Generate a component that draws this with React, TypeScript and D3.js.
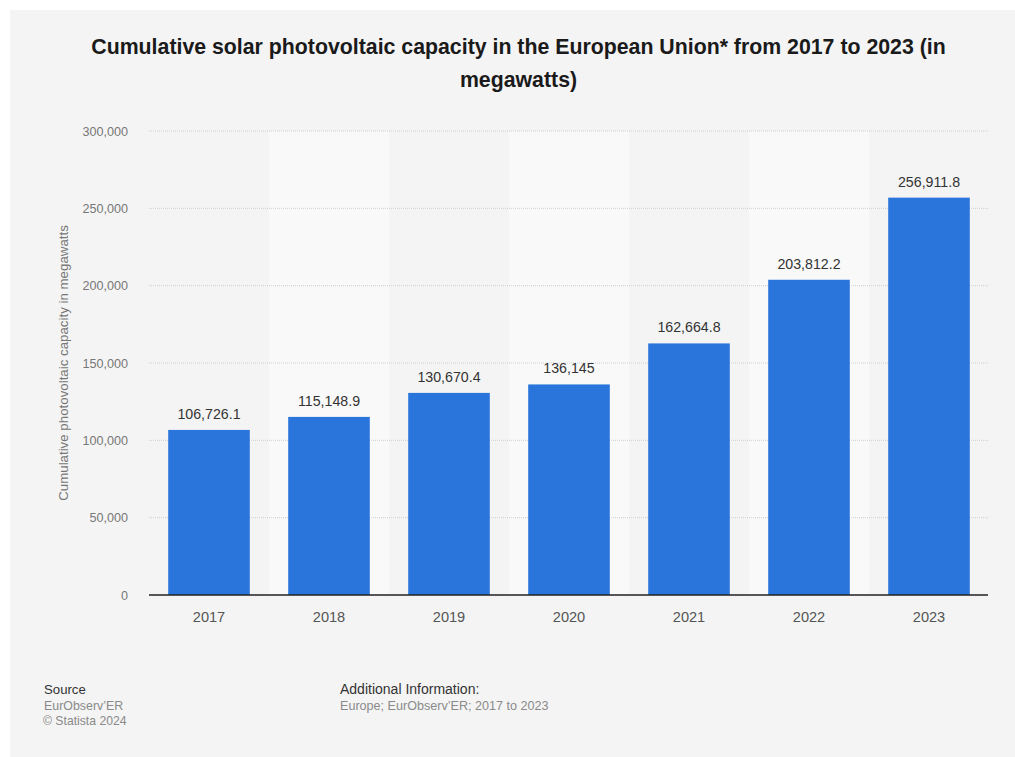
import React from "react";
import * as d3 from "d3";

const years = ["2017", "2018", "2019", "2020", "2021", "2022", "2023"];
const capacity = [106726.1, 115148.9, 130670.4, 136145, 162664.8, 203812.2, 256911.8];
const valueLabels = ["106,726.1", "115,148.9", "130,670.4", "136,145", "162,664.8", "203,812.2", "256,911.8"];
const yTicks = [0, 50000, 100000, 150000, 200000, 250000, 300000];

const W = 1015;
const H = 757;
const plot = { left: 149, right: 989, top: 131, bottom: 595 };
const FONT = "'Liberation Sans', Arial, Helvetica, sans-serif";

export default function App() {
  const x = d3.scaleBand<string>().domain(years).range([plot.left, plot.right]).paddingInner(0.32).paddingOuter(0.16);
  const xBand = d3.scaleBand<string>().domain(years).range([plot.left, plot.right]).padding(0);
  const y = d3.scaleLinear().domain([0, 300000]).range([plot.bottom, plot.top]);
  const fmt = d3.format(",");

  return (
    <svg width={W} height={H} style={{ position: "absolute", left: 0, top: 0, display: "block" }} xmlns="http://www.w3.org/2000/svg">
      <rect x={0} y={0} width={W} height={H} fill="#ffffff" />
      <rect x={10} y={10} width={W - 10} height={H - 10} fill="#f4f4f4" />
      {/* alternating bands */}
      {years.map((yr, i) =>
        i % 2 === 1 ? (
          <rect key={"band" + yr} x={xBand(yr)!} y={plot.top} width={xBand.bandwidth()} height={plot.bottom - plot.top} fill="#f9f9f9" />
        ) : null
      )}
      {/* title */}
      <text x={518.5} y={54} textAnchor="middle" fontFamily={FONT} fontWeight="bold" fontSize={21.3} fill="#1a1a1a">
        Cumulative solar photovoltaic capacity in the European Union* from 2017 to 2023 (in
      </text>
      <text x={518.5} y={87} textAnchor="middle" fontFamily={FONT} fontWeight="bold" fontSize={21.3} fill="#1a1a1a">
        megawatts)
      </text>
      {/* gridlines */}
      {yTicks.filter((t) => t > 0).map((t) => (
        <line key={"g" + t} x1={plot.left} x2={plot.right - 1} y1={y(t)} y2={y(t)} stroke="#cfcfcf" strokeWidth={1} strokeDasharray="1,1" />
      ))}
      {/* y tick labels */}
      {yTicks.map((t) => (
        <text key={"yt" + t} x={128} y={y(t) + 4.5} textAnchor="end" fontFamily={FONT} fontSize={12.6} fill="#777">
          {fmt(t)}
        </text>
      ))}
      {/* y axis title */}
      <text transform={`translate(68, ${(plot.top + plot.bottom) / 2}) rotate(-90)`} textAnchor="middle" fontFamily={FONT} fontSize={13.3} fill="#777">
        Cumulative photovoltaic capacity in megawatts
      </text>
      {/* bars */}
      {years.map((yr, i) => (
        <rect key={"b" + yr} x={x(yr)!} y={y(capacity[i])} width={x.bandwidth()} height={plot.bottom - y(capacity[i])} fill="#2a75db" />
      ))}
      {/* value labels */}
      {years.map((yr, i) => (
        <text key={"v" + yr} x={x(yr)! + x.bandwidth() / 2} y={y(capacity[i]) - 11} textAnchor="middle" fontFamily={FONT} fontSize={14.2} fill="#333">
          {valueLabels[i]}
        </text>
      ))}
      {/* axis line */}
      <line x1={plot.left} x2={plot.right - 1} y1={plot.bottom} y2={plot.bottom} stroke="#222" strokeWidth={1.5} />
      {/* x labels */}
      {years.map((yr) => (
        <text key={"x" + yr} x={x(yr)! + x.bandwidth() / 2} y={622} textAnchor="middle" fontFamily={FONT} fontSize={14.6} fill="#555">
          {yr}
        </text>
      ))}
      {/* footer */}
      <text x={44} y={694} fontFamily={FONT} fontSize={13.2} fill="#333">Source</text>
      <text x={44} y={710} fontFamily={FONT} fontSize={12.4} fill="#8a8a8a">EurObserv’ER</text>
      <text x={43} y={725} fontFamily={FONT} fontSize={12.2} fill="#8a8a8a">© Statista 2024</text>
      <text x={340} y={694} fontFamily={FONT} fontSize={14} fill="#333">Additional Information:</text>
      <text x={340} y={710} fontFamily={FONT} fontSize={12.6} fill="#8a8a8a">Europe; EurObserv’ER; 2017 to 2023</text>
    </svg>
  );
}
